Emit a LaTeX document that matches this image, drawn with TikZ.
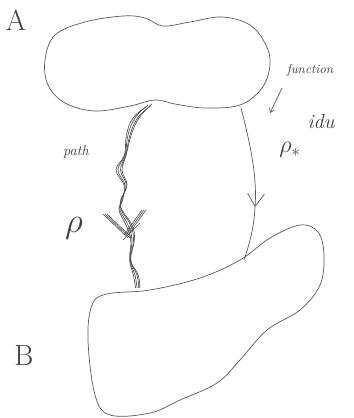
\documentclass[tikz,border=0pt]{standalone}
\usepackage{xcolor}
\usepackage{tikz}
\usetikzlibrary{arrows.meta, calc}

\tikzset{
    pencil/.style={draw=black!65, line width=0.5pt},
    strand/.style={draw=black!70, line width=0.45pt},
    scribble/.style={text=black!75, font=\itshape}
}

\begin{document}
\begin{tikzpicture}[x=0.025cm, y=-0.025cm]
    \useasboundingbox (0,0) rectangle (353,418);

    % Region A (peanut shaped)
    \draw[pencil] plot[smooth cycle, tension=0.6] coordinates {
        (45,60) (55,35) (85,22) (123,16) (145,18) (163,26) (190,22)
        (222,17) (250,25) (266,45) (270,65) (262,88) (240,105)
        (205,108) (175,104) (155,100) (130,106) (95,111) (65,103) (48,85)};

    % Region B
    \draw[pencil] plot[smooth cycle, tension=0.6] coordinates {
        (107,294) (150,290) (200,278) (240,260) (270,238) (300,225)
        (318,232) (324,255) (320,285) (300,310) (267,330) (240,360)
        (217,383) (180,400) (150,413) (110,415) (95,395) (88,340) (92,305)};

    % End points on the regions
    \coordinate (pathA) at (148,105);
    \coordinate (pathB) at (137,288);
    \coordinate (idA) at (241,108);
    \coordinate (idMid) at (255,207);
    \coordinate (idB) at (244,260);

    % Path rho (several tangled strands)
    \foreach \dx/\dy in {0/0, 2.5/1, -2/2, 4/-1} {
        \draw[strand] plot[smooth, tension=0.7] coordinates {
            ($(pathA)+(\dx,\dy)$) (135+\dx,118) (128+0.8*\dx,135)
            (125+0.3*\dx,155) (118+\dx,170) (125+0.5*\dx,185)
            (122-0.3*\dx,200) (120+0.5*\dx,210) (128+\dx,225)
            (132+0.6*\dx,240) (130+0.2*\dx,260) (135+0.8*\dx,275)
            ($(pathB)+(0.7*\dx,0)$)};
    }
    \foreach \dx in {0,2,4} {
        \draw[strand] (103+\dx,214) -- (128+\dx,238);
        \draw[strand] (146-\dx,210) -- (128-\dx,235);
    }
    \draw[strand] (140,223) -- (123,240);

    % Identity function rho*
    \draw[pencil, -{Straight Barb[length=9pt, width=12pt]}]
        (idA) .. controls (252,150) and (257,180) .. (idMid);
    \draw[pencil] (idMid) .. controls (254,230) and (248,248) .. (idB);

    % Pointer from the word "function"
    \coordinate (fnTail) at (282,88);
    \coordinate (fnTip) at (270,113);
    \draw[pencil, -{Straight Barb[length=3pt, width=4pt]}] (fnTail) -- (fnTip);

    % Labels
    \node[scribble, font=\huge\upshape] (labA) at (16,20) {A};
    \node[scribble, font=\huge\upshape] (labB) at (24,356) {B};
    \node[scribble, font=\small\itshape] (labFn) at (310,70) {function};
    \node[scribble, font=\Large\itshape] (labIdu) at (321,122) {idu};
    \node[scribble] (labRhoStar) at (290,150) {\LARGE$\rho_*$};
    \node[scribble, font=\itshape] (labPath) at (76,152) {path};
    \node[scribble] (labRho) at (74,228) {\fontsize{36}{40}\selectfont$\rho$};
\end{tikzpicture}
\end{document}
